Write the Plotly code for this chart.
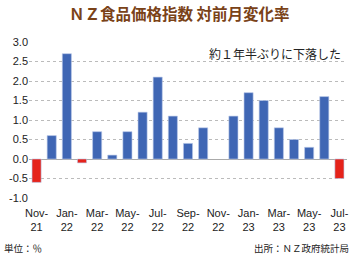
import plotly.graph_objects as go

months = ["Nov-21","Dec-21","Jan-22","Feb-22","Mar-22","Apr-22","May-22","Jun-22","Jul-22",
          "Aug-22","Sep-22","Oct-22","Nov-22","Dec-22","Jan-23","Feb-23","Mar-23","Apr-23",
          "May-23","Jun-23","Jul-23"]
values = [-0.6, 0.6, 2.7, -0.1, 0.7, 0.1, 0.7, 1.2, 2.1, 1.1, 0.4, 0.8, None, 1.1, 1.7, 1.5,
          0.8, 0.5, 0.3, 1.6, -0.5]
tick_idx = [0, 2, 4, 6, 8, 10, 12, 14, 16, 18, 20]
y_ticks = [-1.0, -0.5, 0.0, 0.5, 1.0, 1.5, 2.0, 2.5, 3.0]

BLUE = "#3F66B4"
RED = "#E5231B"
colors = [RED if (v is not None and v < 0) else BLUE for v in values]

fig = go.Figure()
fig.add_trace(go.Bar(
    x=list(range(len(months))), y=values,
    marker=dict(color=colors, line=dict(color="#B8C8E8", width=0.6)),
    width=0.6,
))

L, R, T, B = 29.4, 8.4, 42, 57
W, H = 357, 255
pw = W - L - R
ph = H - T - B

def px(x):
    return (x - L) / pw

def py(y):
    return (H - B - y) / ph

fig.update_layout(
    width=W, height=H,
    margin=dict(l=L, r=R, t=T, b=B),
    paper_bgcolor="white", plot_bgcolor="white",
    showlegend=False,
    font=dict(family="Liberation Sans, Arial, sans-serif", size=11, color="#222222"),
    xaxis=dict(
        range=[-0.5, len(months) - 0.5],
        tickmode="array",
        tickvals=tick_idx,
        ticktext=[months[i].replace("-", "-<br>") for i in tick_idx],
        showgrid=False, zeroline=False, showline=False, ticks="",
        ticklabelstandoff=7,
        tickfont=dict(size=11, color="#222222"),
    ),
    yaxis=dict(
        range=[-1.0, 3.0],
        tickmode="array",
        tickvals=y_ticks,
        ticktext=[f"{v:.1f}" for v in y_ticks],
        showgrid=True, gridcolor="#BBBBBB", griddash="dot", gridwidth=1,
        zeroline=True, zerolinecolor="#AAAAAA", zerolinewidth=1,
        showline=False, ticks="",
        tickfont=dict(size=11, color="#222222"),
    ),
    annotations=[
        dict(text="<b>ＮＺ食品価格指数 対前月変化率</b>", x=px(180), y=py(13),
             xref="paper", yref="paper", xanchor="center", yanchor="middle", showarrow=False,
             font=dict(family="Noto Sans CJK JP", size=15.5, color="#7A4218")),
        dict(text="約１年半ぶりに下落した", x=px(345), y=py(54),
             xref="paper", yref="paper", xanchor="right", yanchor="middle", showarrow=False,
             font=dict(family="Noto Sans CJK JP", size=12, color="#222222")),
        dict(text="単位：％", x=px(2), y=py(248),
             xref="paper", yref="paper", xanchor="left", yanchor="middle", showarrow=False,
             font=dict(family="Noto Sans CJK JP", size=9.5, color="#222222")),
        dict(text="出所：ＮＺ政府統計局", x=px(353), y=py(248),
             xref="paper", yref="paper", xanchor="right", yanchor="middle", showarrow=False,
             font=dict(family="Noto Sans CJK JP", size=9.5, color="#222222")),
    ],
)

fig.write_html("out.html")
